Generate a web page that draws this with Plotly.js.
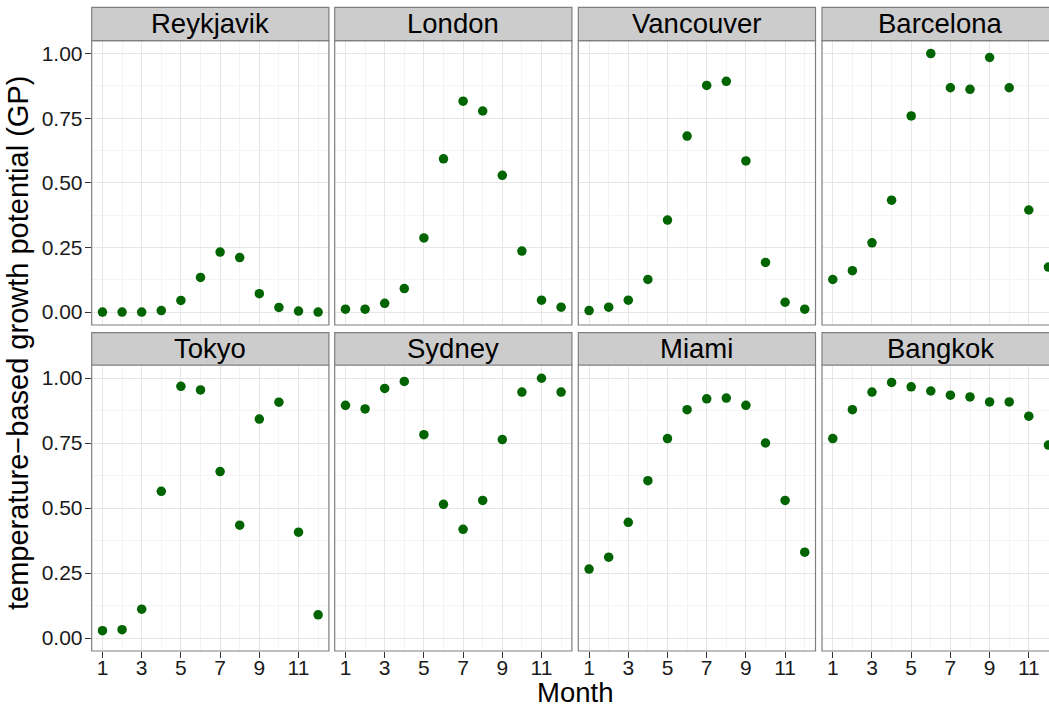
<!DOCTYPE html>
<html>
<head>
<meta charset="utf-8">
<script src="https://cdn.plot.ly/plotly-3.0.1.min.js"></script>
<style>
html,body{margin:0;padding:0;background:#fff;}
#chart{width:1049px;height:709px;}
</style>
</head>
<body>
<div id="chart"></div>
<script>
const months = [1,2,3,4,5,6,7,8,9,10,11,12];
const cities = ["Reykjavik","London","Vancouver","Barcelona","Tokyo","Sydney","Miami","Bangkok"];
const reykjavik = [0.000,0.000,0.000,0.006,0.045,0.134,0.232,0.211,0.071,0.018,0.004,0.000];
const london    = [0.011,0.011,0.034,0.091,0.287,0.593,0.816,0.778,0.529,0.236,0.046,0.019];
const vancouver = [0.006,0.019,0.046,0.126,0.356,0.681,0.877,0.893,0.585,0.192,0.038,0.011];
const barcelona = [0.126,0.160,0.268,0.433,0.759,1.000,0.868,0.862,0.985,0.868,0.395,0.174];
const tokyo     = [0.028,0.032,0.111,0.564,0.968,0.954,0.640,0.434,0.842,0.907,0.407,0.089];
const sydney    = [0.895,0.881,0.960,0.987,0.782,0.514,0.418,0.529,0.763,0.946,0.999,0.946];
const miami     = [0.265,0.311,0.445,0.605,0.767,0.878,0.920,0.923,0.895,0.750,0.529,0.330];
const bangkok   = [0.767,0.878,0.946,0.983,0.966,0.950,0.934,0.927,0.908,0.908,0.853,0.742];
const xTickVals = [1,3,5,7,9,11];
const yTickVals = [0,0.25,0.5,0.75,1];
const yTickText = ["0.00","0.25","0.50","0.75","1.00"];
const xTitle = "Month";
const yTitle = "temperature\u2212based growth potential (GP)";

const series = [reykjavik,london,vancouver,barcelona,tokyo,sydney,miami,bangkok];

const W = 1049, H = 709;
const colLeft = [91.7, 334.7, 578.3, 822.0];
const panelW = 237.2;
const rowTop = [40.7, 365.0];
const rowBottom = [325.0, 651.0];
const stripTop = [7.3, 332.7];

const traces = [];
const layout = {
  width: W, height: H,
  margin: {l:0, r:0, t:0, b:0},
  paper_bgcolor: "#ffffff",
  plot_bgcolor: "#ffffff",
  showlegend: false,
  font: {family: "Liberation Sans, Arial, sans-serif", color: "#1a1a1a"},
  shapes: [],
  annotations: []
};

series.forEach((vals, i) => {
  const row = Math.floor(i / 4), col = i % 4;
  const n = i + 1;
  const xa = "x" + (n === 1 ? "" : n), ya = "y" + (n === 1 ? "" : n);
  traces.push({
    type: "scatter", mode: "markers",
    x: months, y: vals,
    xaxis: xa, yaxis: ya,
    marker: {color: "#006400", size: 9.5},
    hoverinfo: "x+y"
  });
  const x0 = colLeft[col], x1 = Math.min(colLeft[col] + panelW, W);
  const xmax = col === 3 ? 0.45 + (W - colLeft[col]) / (panelW / 12.1) : 12.55;
  const xd = [x0 / W, x1 / W];
  const yd = [1 - rowBottom[row] / H, 1 - rowTop[row] / H];
  const grid = "#e6e6e6", minorGrid = "#f4f4f4";
  layout["xaxis" + (n === 1 ? "" : n)] = {
    domain: xd, anchor: ya, range: [0.45, xmax],
    tickmode: "array", tickvals: xTickVals, ticktext: xTickVals.map(String),
    showgrid: true, gridcolor: grid, gridwidth: 1,
    minor: {tickmode: "array", tickvals: [2,4,6,8,10,12], showgrid: true, gridcolor: minorGrid, gridwidth: 1, ticks: ""},
    zeroline: false, showline: false,
    ticks: row === 1 ? "outside" : "", ticklen: 6, tickwidth: 1, tickcolor: "#333333",
    showticklabels: row === 1,
    ticklabelstandoff: -8,
    tickfont: {size: 21, color: "#1a1a1a"}
  };
  layout["yaxis" + (n === 1 ? "" : n)] = {
    domain: yd, anchor: xa, range: [-0.05, 1.05],
    tickmode: "array", tickvals: yTickVals, ticktext: yTickText,
    showgrid: true, gridcolor: grid, gridwidth: 1,
    minor: {tickmode: "array", tickvals: [0.125,0.375,0.625,0.875], showgrid: true, gridcolor: minorGrid, gridwidth: 1, ticks: ""},
    zeroline: false, showline: false,
    ticks: col === 0 ? "outside" : "", ticklen: 6, tickwidth: 1, tickcolor: "#333333",
    showticklabels: col === 0,
    ticklabelstandoff: -2,
    tickfont: {size: 21, color: "#1a1a1a"}
  };
  const bx1 = col === 3 ? (colLeft[col] + panelW) / W : x1 / W;
  layout.shapes.push({
    type: "rect", xref: "paper", yref: "paper",
    x0: x0 / W, x1: bx1, y0: yd[0], y1: yd[1],
    line: {color: "#7f7f7f", width: 1.2}, fillcolor: "rgba(0,0,0,0)", layer: "above"
  });
  const sy0 = 1 - rowTop[row] / H, sy1 = 1 - stripTop[row] / H;
  layout.shapes.push({
    type: "rect", xref: "paper", yref: "paper",
    x0: x0 / W, x1: bx1, y0: sy0, y1: sy1,
    line: {color: "#7f7f7f", width: 1.2}, fillcolor: "#cccccc", layer: "above"
  });
  layout.annotations.push({
    xref: "paper", yref: "paper",
    x: (x0 + panelW / 2) / W, y: (sy0 + sy1) / 2,
    xanchor: "center", yanchor: "middle",
    text: cities[i], showarrow: false,
    font: {size: 27.5, color: "#000000"}
  });
});

layout.annotations.push({
  xref: "paper", yref: "paper",
  x: (colLeft[0] + (colLeft[3] + panelW)) / 2 / W, y: 1 - 692 / H,
  xanchor: "center", yanchor: "middle",
  text: xTitle, showarrow: false,
  font: {size: 27.5, color: "#000000"}
});
layout.annotations.push({
  xref: "paper", yref: "paper",
  x: 18 / W, y: 1 - 343 / H,
  xanchor: "center", yanchor: "middle", textangle: -90,
  text: yTitle, showarrow: false,
  font: {size: 29, color: "#000000"}
});

Plotly.newPlot("chart", traces, layout, {displayModeBar: false, staticPlot: true});
</script>
</body>
</html>
